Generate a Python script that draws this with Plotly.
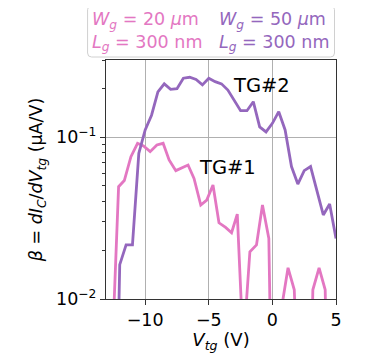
import plotly.graph_objects as go

# TG#2 (Wg = 50 um, Lg = 300 nm)
vtg_tg2 = [-12.5, -12.0, -11.5, -11.0, -10.5, -10.0, -9.5, -9.0, -8.5, -8.0, -7.5, -7.0,
           -6.5, -6.0, -5.5, -5.0, -4.5, -4.0, -3.5, -3.0, -2.5, -2.0, -1.5, -1.0, -0.5,
           0.0, 0.5, 1.0, 1.5, 2.0, 2.5, 3.0, 3.5, 4.0, 4.5, 5.0]
beta_tg2 = [0.0002, 0.0163, 0.0216, 0.0216, 0.0796, 0.111, 0.137, 0.191, 0.214, 0.198, 0.200, 0.232,
            0.235, 0.228, 0.211, 0.232, 0.221, 0.214, 0.196, 0.170, 0.146, 0.146, 0.166, 0.116, 0.108,
            0.122, 0.144, 0.111, 0.0659, 0.0514, 0.0622, 0.0659, 0.0472, 0.0331, 0.0387, 0.0237]

# TG#1 (Wg = 20 um, Lg = 300 nm)
vtg_tg1 = [-12.58, -12.09, -11.64, -11.12, -10.60, -10.13, -9.61, -9.08, -8.59, -8.12, -7.59, -7.07,
           -6.63, -6.16, -5.63, -5.16, -4.67, -4.20, -3.68, -3.21, -2.76, -2.29, -1.77, -1.25,
           -0.78, -0.28, 0.22, 0.74, 1.23, 1.72, 2.20, 2.70, 3.18, 3.67, 4.15, 4.65]
beta_tg1 = [0.005, 0.0495, 0.054, 0.0759, 0.0918, 0.0883, 0.0815, 0.0897, 0.0918, 0.0724, 0.0622, 0.0652,
            0.0674, 0.0557, 0.0381, 0.0409, 0.0507, 0.0296, 0.0277, 0.0257, 0.0335, 0.005, 0.0196, 0.0216,
            0.0381, 0.0237, 0.0001, 0.009, 0.0156, 0.0114, 0.0001, 0.0001, 0.0114, 0.0156, 0.0114, 0.0001]

x_ticks = [-10, -5, 0, 5]
x_ticktext = ["\u221210", "\u22125", "0", "5"]
y_ticks = [0.01, 0.1]
y_ticktext = ["10<sup>\u22122</sup>", "10<sup>\u22121</sup>"]
y_minor = [0.02, 0.03, 0.04, 0.05, 0.06, 0.07, 0.08, 0.09, 0.2, 0.3]

PINK = "#e377c2"
PURPLE = "#9467bd"
FONT = "DejaVu Sans"

fig = go.Figure()
fig.add_trace(go.Scatter(x=vtg_tg1, y=beta_tg1, mode="lines",
                         line=dict(color=PINK, width=2.8)))
fig.add_trace(go.Scatter(x=vtg_tg2, y=beta_tg2, mode="lines",
                         line=dict(color=PURPLE, width=2.8)))

# the page body has an 8 px default margin, so the figure is drawn 8 px smaller
OFF = 8
W, H = 373 - OFF, 353 - OFF
L, T = 105.5 - OFF, 60 - OFF
pw, ph = 231, 239
R, B = W - L - pw, H - T - ph

def px2paper(px, py):
    # px, py are window pixel coordinates
    return (px - OFF - L) / pw, (T + ph - (py - OFF)) / ph

fig.update_layout(
    width=W, height=H,
    margin=dict(l=L, r=R, t=T, b=B, autoexpand=False),
    paper_bgcolor="white", plot_bgcolor="white",
    showlegend=False,
    font=dict(family=FONT, size=17.5, color="black"),
    xaxis=dict(range=[-13.08, 5], tickvals=x_ticks, ticktext=x_ticktext,
               ticks="outside", ticklen=5, tickwidth=1.2, tickcolor="#333",
               showline=True, linecolor="#333", linewidth=1.3, mirror=True,
               showgrid=True, gridcolor="#b0b0b0", gridwidth=1, zeroline=False,
               automargin=False, tickfont=dict(size=17.5),
               title=dict(text="<i>V</i><sub><i>tg</i></sub> (V)", standoff=4,
                          font=dict(size=18))),
    yaxis=dict(type="log", range=[-2, -0.522], tickvals=y_ticks, ticktext=y_ticktext,
               ticks="outside", ticklen=5, tickwidth=1.2, tickcolor="#333",
               showline=True, linecolor="#333", linewidth=1.3, mirror=True,
               showgrid=True, gridcolor="#b0b0b0", gridwidth=1, zeroline=False,
               automargin=False, tickfont=dict(size=17.5),
               minor=dict(tickvals=y_minor, ticks="outside", ticklen=3, tickwidth=1,
                          tickcolor="#333", showgrid=False),
               title=dict(text="<i>\u03b2</i> = <i>dI</i><sub><i>C</i></sub>/<i>dV</i><sub><i>tg</i></sub> (\u03bcA/V)",
                          standoff=8, font=dict(size=17.5))),
)

# text labels for curves
fig.add_annotation(x=-3.23, y=-0.677, xref="x", yref="y", text="TG#2", showarrow=False,
                   xanchor="left", yanchor="middle", font=dict(size=19.5, color="black"))
fig.add_annotation(x=-5.89, y=-1.184, xref="x", yref="y", text="TG#1", showarrow=False,
                   xanchor="left", yanchor="middle", font=dict(size=19.5, color="black"))

# legend-like box with rounded corners
x0, y0 = px2paper(87, 57)
x1, y1 = px2paper(335, 5.7)
rx, ry = 4 / pw, 4 / ph
path = (f"M {x0+rx},{y0} L {x1-rx},{y0} Q {x1},{y0} {x1},{y0+ry} L {x1},{y1-ry} "
        f"Q {x1},{y1} {x1-rx},{y1} L {x0+rx},{y1} Q {x0},{y1} {x0},{y1-ry} "
        f"L {x0},{y0+ry} Q {x0},{y0} {x0+rx},{y0} Z")
fig.add_shape(type="path", path=path, xref="paper", yref="paper",
              line=dict(color="#d0d0d0", width=1), fillcolor="rgba(255,255,255,0.8)", layer="above")

lx1, ly = px2paper(89, 32)
lx2, _ = px2paper(217, 32)
fig.add_annotation(x=lx1, y=ly, xref="paper", yref="paper", showarrow=False,
                   xanchor="left", yanchor="middle", align="left",
                   text="<i>W</i><sub><i>g</i></sub> = 20 <i>\u03bc</i>m<br><i>L</i><sub><i>g</i></sub> = 300 nm",
                   font=dict(size=17.5, color=PINK))
fig.add_annotation(x=lx2, y=ly, xref="paper", yref="paper", showarrow=False,
                   xanchor="left", yanchor="middle", align="left",
                   text="<i>W</i><sub><i>g</i></sub> = 50 <i>\u03bc</i>m<br><i>L</i><sub><i>g</i></sub> = 300 nm",
                   font=dict(size=17.5, color=PURPLE))

fig.write_html("out.html")
